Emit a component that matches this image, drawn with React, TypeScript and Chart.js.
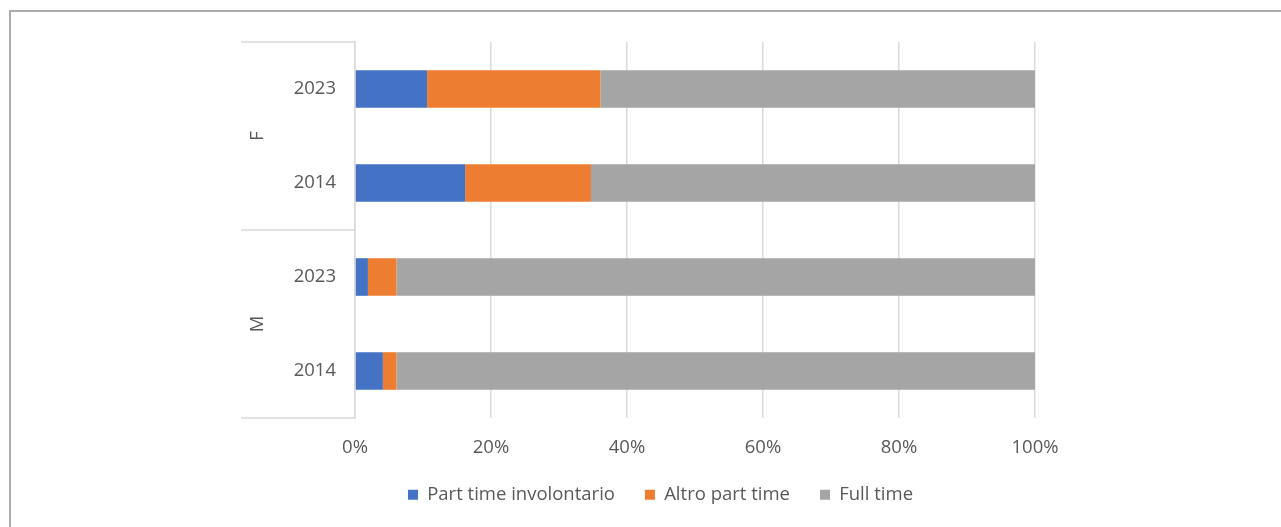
import { useEffect, useRef } from "react";
import { Chart, registerables } from "chart.js";

Chart.register(...registerables);

// Categories (top to bottom): gender group + year
const groups = ["F", "F", "M", "M"];
const years = ["2023", "2014", "2023", "2014"];

// Shares of employed people, percent
const involuntaryPartTime = [10.6, 16.2, 1.9, 4.1];
const otherPartTime = [25.5, 18.5, 4.2, 2.0];
const fullTime = [63.9, 65.3, 93.9, 93.9];

const seriesNames = ["Part time involontario", "Altro part time", "Full time"];
const seriesColors = ["#4472C4", "#ED7D31", "#A5A5A5"];

const TEXT = "#595959";
const GRID = "#D9D9D9";
const FONT = "'Open Sans', 'Noto Sans', sans-serif";

// Draws the outer category level (F / M) with its separator lines
const groupAxisPlugin = {
  id: "groupAxis",
  afterDraw(chart: any) {
    const { ctx, chartArea } = chart;
    const yScale = chart.scales.y;
    const lineLeft = chartArea.left - 114;
    const labelX = chartArea.left - 97;

    const spans: { name: string; start: number; end: number }[] = [];
    groups.forEach((g, i) => {
      const last = spans[spans.length - 1];
      if (last && last.name === g) last.end = i;
      else spans.push({ name: g, start: i, end: i });
    });

    const boundary = (idx: number) => {
      if (idx <= 0) return chartArea.top;
      if (idx >= groups.length) return chartArea.bottom;
      return (yScale.getPixelForValue(idx - 1) + yScale.getPixelForValue(idx)) / 2;
    };

    ctx.save();
    ctx.strokeStyle = GRID;
    ctx.lineWidth = 1.5;
    const edges = [0, ...spans.map((s) => s.end + 1)];
    edges.forEach((e) => {
      const py = boundary(e);
      ctx.beginPath();
      ctx.moveTo(lineLeft, py);
      ctx.lineTo(chartArea.left, py);
      ctx.stroke();
    });

    ctx.fillStyle = TEXT;
    ctx.font = `18.5px ${FONT}`;
    ctx.textAlign = "center";
    ctx.textBaseline = "middle";
    spans.forEach((s) => {
      const cy = (yScale.getPixelForValue(s.start) + yScale.getPixelForValue(s.end)) / 2;
      ctx.save();
      ctx.translate(labelX, cy);
      ctx.rotate(-Math.PI / 2);
      ctx.fillText(s.name, 0, 0);
      ctx.restore();
    });
    ctx.restore();
  },
};

export default function App() {
  const canvasRef = useRef<HTMLCanvasElement | null>(null);

  useEffect(() => {
    if (!canvasRef.current) return;
    const values = [involuntaryPartTime, otherPartTime, fullTime];
    const chart = new Chart(canvasRef.current, {
      type: "bar",
      data: {
        labels: years,
        datasets: seriesNames.map((name, i) => ({
          label: name,
          data: values[i],
          backgroundColor: seriesColors[i],
          borderWidth: 0,
          barPercentage: 0.4,
          categoryPercentage: 1,
        })),
      },
      options: {
        indexAxis: "y",
        responsive: false,
        animation: false,
        devicePixelRatio: 1,
        layout: { padding: { top: 42, left: 286, right: 246, bottom: 13 } },
        scales: {
          x: {
            stacked: true,
            min: 0,
            max: 100,
            afterFit: (scale: any) => {
              scale.height = 37.5;
            },
            grid: { color: GRID, lineWidth: 1.5, drawTicks: false },
            border: { display: false },
            ticks: {
              stepSize: 20,
              padding: 19,
              color: TEXT,
              font: { family: FONT, size: 18.5 },
              callback: (v: any) => `${v}%`,
            },
          },
          y: {
            stacked: true,
            afterFit: (scale: any) => {
              scale.width = 69;
            },
            grid: { display: false, drawTicks: false },
            border: { display: true, color: GRID, width: 1.5 },
            ticks: {
              padding: 19,
              color: TEXT,
              font: { family: FONT, size: 18.5 },
            },
          },
        },
        plugins: {
          tooltip: { enabled: false },
          legend: {
            position: "bottom",
            labels: {
              boxWidth: 10,
              boxHeight: 10,
              padding: 30,
              color: TEXT,
              font: { family: FONT, size: 18.5 },
            },
          },
        },
      },
      plugins: [groupAxisPlugin],
    });
    return () => chart.destroy();
  }, []);

  return (
    <div style={{ position: "absolute", left: 0, top: 0, width: 1281, height: 527, background: "#fff" }}>
      <div
        style={{
          position: "absolute",
          left: 9,
          top: 10,
          right: 0,
          bottom: 0,
          borderTop: "2px solid #ABABAB",
          borderLeft: "2px solid #ABABAB",
        }}
      />
      <canvas ref={canvasRef} width={1281} height={527} style={{ position: "absolute", left: 0, top: 0 }} />
    </div>
  );
}
